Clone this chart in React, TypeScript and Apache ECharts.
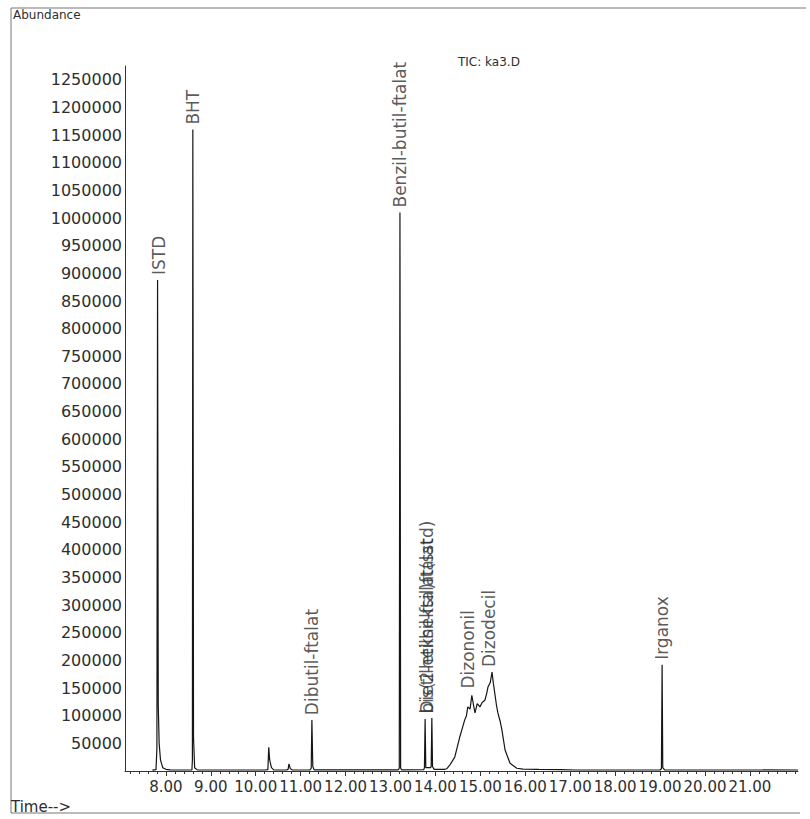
import React, { useEffect, useRef } from "react";
import * as echarts from "echarts";

// Chromatogram trace (retention time in minutes, abundance)
const traceTimes = [
  7.70, 7.78, 7.80, 7.815, 7.83, 7.85, 7.88, 7.93, 8.00, 8.10,
  8.50, 8.58, 8.59, 8.60, 8.615, 8.64, 8.70,
  10.20, 10.27, 10.29, 10.31, 10.35, 10.40,
  10.68, 10.72, 10.74, 10.77, 10.82,
  11.21, 11.235, 11.25, 11.27, 11.30,
  13.17, 13.195, 13.21, 13.225, 13.25,
  13.74, 13.755, 13.77, 13.785, 13.89, 13.905, 13.92, 13.935, 13.97,
  14.20, 14.25, 14.33, 14.43, 14.54, 14.60, 14.65, 14.69, 14.72, 14.77,
  14.81, 14.85, 14.88, 14.93, 14.99, 15.04, 15.10, 15.14, 15.17, 15.22,
  15.26, 15.29, 15.32, 15.36, 15.39, 15.44, 15.48, 15.55, 15.66, 15.81,
  15.95, 16.30, 16.80, 17.10,
  19.00, 19.03, 19.045, 19.06, 19.10, 22.07,
];
const traceValues = [
  1500, 2500, 40000, 888000, 120000, 50000, 20000, 6000, 3000, 2000,
  1800, 2200, 20000, 1160000, 60000, 6000, 2000,
  1800, 2500, 43000, 20000, 6000, 2000,
  1800, 3000, 13000, 4000, 1800,
  2000, 5000, 92000, 8000, 2000,
  2000, 5000, 1010000, 5000, 2000,
  2500, 6000, 94000, 6000, 6000, 8000, 96000, 8000, 3000,
  3000, 4000, 12000, 25000, 61000, 78000, 92000, 100000, 116000, 112000,
  137000, 118000, 105000, 122000, 116000, 124000, 128000, 140000, 152000, 160000,
  179000, 158000, 141000, 118000, 105000, 90000, 74000, 38000, 14000, 5000,
  3500, 3000, 2500, 1800,
  1800, 4000, 192000, 6000, 2000, 1800,
];

// Peak annotations
const peakNames = [
  "ISTD",
  "BHT",
  "Dibutil-ftalat",
  "Benzil-butil-ftalat",
  "bis(2-etilheksil)ftalat",
  "Dietilheksil-ftalat(sstd)",
  "Dizononil",
  "Dizodecil",
  "Irganox",
];
const peakTimes = [7.84, 8.6, 11.25, 13.2, 13.81, 13.81, 14.72, 15.2, 19.045];
const peakValues = [888000, 1160000, 92000, 1010000, 95000, 95000, 140000, 179000, 192000];

// Axis ticks
const xMajorTicks = [8, 9, 10, 11, 12, 13, 14, 15, 16, 17, 18, 19, 20, 21];
const xMin = 7.09;
const xMax = 22.07;
const yMax = 1275000;
const yStep = 50000;

export default function App() {
  const ref = useRef<HTMLDivElement>(null);

  useEffect(() => {
    if (!ref.current) return;
    const chart = echarts.init(ref.current, null, { renderer: "svg" });

    const minorTicks: number[] = [];
    for (let i = 36; i <= 110; i++) minorTicks.push(Math.round(i * 20) / 100);

    const trace = traceTimes.map((t, i) => [t, traceValues[i]]);
    const labels = peakTimes.map((t, i) => ({ value: [t, peakValues[i]], name: peakNames[i] }));

    const textColor = "#2e2e2e";
    const axisColor = "#333";

    chart.setOption({
      animation: false,
      backgroundColor: "#fff",
      grid: { left: 125, right: 12, top: 66, bottom: 48, containLabel: false },
      xAxis: [
        {
          type: "value",
          min: xMin,
          max: xMax,
          axisLine: { show: true, onZero: false, lineStyle: { color: axisColor, width: 1 } },
          axisTick: { show: true, customValues: minorTicks, length: 3, lineStyle: { color: axisColor } },
          axisLabel: {
            customValues: xMajorTicks,
            formatter: (v: number) => v.toFixed(2),
            fontFamily: "DejaVu Sans",
            fontSize: 15,
            color: textColor,
            margin: 8,
            showMinLabel: true,
            showMaxLabel: true,
            hideOverlap: false,
          },
          splitLine: { show: false },
        },
        {
          type: "value",
          min: xMin,
          max: xMax,
          position: "bottom",
          axisLine: { show: false },
          axisTick: { show: true, customValues: xMajorTicks, length: 5, lineStyle: { color: axisColor } },
          axisLabel: { show: false },
          splitLine: { show: false },
        },
      ],
      yAxis: {
        type: "value",
        min: 0,
        max: yMax,
        interval: yStep,
        axisLine: { show: true, lineStyle: { color: axisColor, width: 1 } },
        axisTick: { show: false },
        axisLabel: {
          formatter: (v: number) => (v === 0 || v % yStep !== 0 ? "" : String(v)),
          fontFamily: "DejaVu Sans",
          fontSize: 16,
          color: textColor,
          margin: 3,
        },
        splitLine: { show: false },
      },
      series: [
        {
          type: "line",
          data: trace,
          symbol: "none",
          lineStyle: { color: "#151515", width: 1.2 },
          silent: true,
        },
        {
          type: "scatter",
          data: labels,
          symbolSize: 0,
          silent: true,
          label: {
            show: true,
            position: "top",
            distance: 5,
            rotate: 90,
            align: "left",
            verticalAlign: "middle",
            formatter: (p: any) => p.name,
            fontFamily: "DejaVu Sans",
            fontSize: 17,
            color: textColor,
          },
        },
      ],
      graphic: [
        { type: "line", shape: { x1: 11, y1: 8, x2: 806, y2: 8 }, style: { stroke: "#777", lineWidth: 1 } },
        { type: "line", shape: { x1: 11, y1: 8, x2: 11, y2: 813 }, style: { stroke: "#777", lineWidth: 1 } },
        { type: "line", shape: { x1: 11, y1: 813, x2: 800, y2: 813 }, style: { stroke: "#777", lineWidth: 1 } },
        {
          type: "text",
          left: 13,
          top: 9,
          style: { text: "Abundance", fontFamily: "DejaVu Sans", fontSize: 12, fill: textColor },
        },
        {
          type: "text",
          left: 458,
          top: 56,
          style: { text: "TIC: ka3.D", fontFamily: "DejaVu Sans", fontSize: 12, fill: textColor },
        },
        {
          type: "text",
          left: 11,
          top: 799,
          style: { text: "Time-->", fontFamily: "DejaVu Sans", fontSize: 15, fill: textColor },
        },
      ],
    });

    return () => chart.dispose();
  }, []);

  return (
    <div
      ref={ref}
      style={{ position: "absolute", left: 0, top: 0, width: 810, height: 819, background: "#fff" }}
    />
  );
}
